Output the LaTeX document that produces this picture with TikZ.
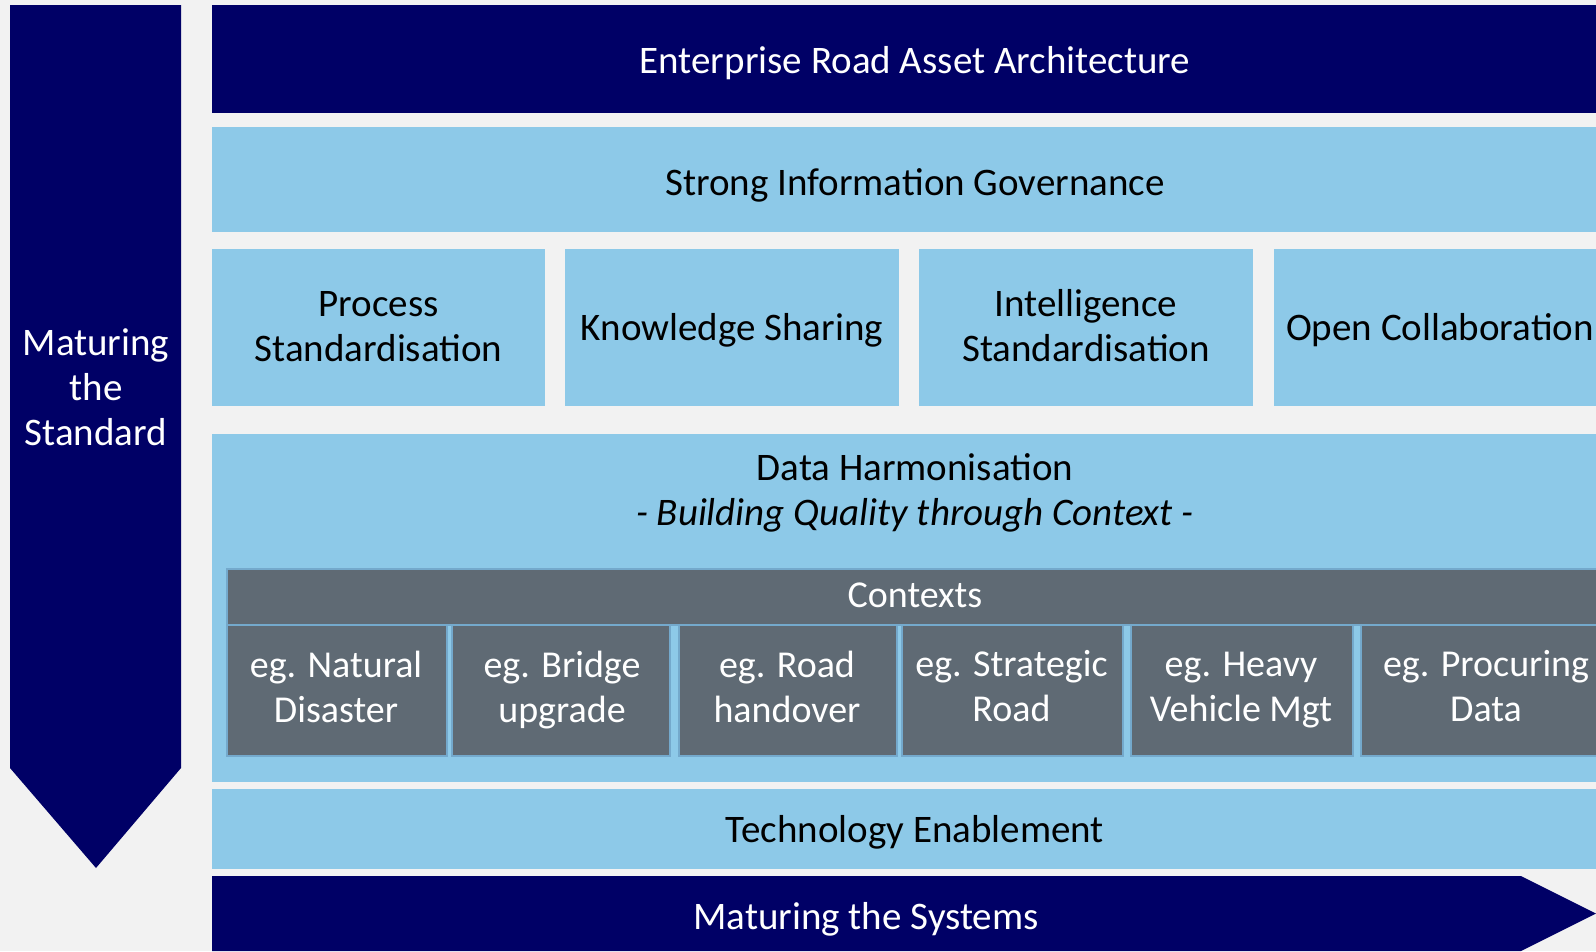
\documentclass[tikz,border=0pt]{standalone}
\usepackage{fontspec}
\setmainfont{Carlito}
\definecolor{navy}{HTML}{000066}
\definecolor{lblue}{HTML}{8DC9E8}
\definecolor{slate}{HTML}{5F6A74}
\definecolor{bgc}{HTML}{F2F2F2}
\definecolor{edge}{HTML}{74A9CC}
\begin{document}
\begin{tikzpicture}[x=1pt,y=-1pt,
  every node/.style={font=\fontsize{39}{45}\selectfont, inner sep=0pt, align=center},
  band/.style={rectangle, anchor=north west, fill=lblue},
  navyband/.style={rectangle, anchor=north west, fill=navy},
  ctx/.style={rectangle, anchor=north west, fill=slate, draw=edge, line width=2pt},
  dlabel/.style={text=black},
  wlabel/.style={text=white},
  clabel/.style={text=white, font=\fontsize{38}{45}\selectfont}]
\useasboundingbox (0,0) rectangle (1596,951);
\fill[bgc] (0,0) rectangle (1596,951);
\clip (0,0) rectangle (1596,951);
% left arrow
\fill[navy] (10,5) -- (181,5) -- (181,768) -- (96,868) -- (10,768) -- cycle;
\node[wlabel] (mstd) at (96,387) {Maturing\\the\\Standard};
% top bands
\node[navyband, minimum width=1406pt, minimum height=108pt] (era) at (212,5) {};
\node[wlabel] (erat) at (915,63) {Enterprise Road Asset Architecture};
\node[band, minimum width=1406pt, minimum height=105pt] (sig) at (212,127) {};
\node[dlabel] (sigt) at (915,185.5) {Strong Information Governance};
% row of four
\node[band, minimum width=333pt, minimum height=157pt] (ps) at (212,249) {};
\node[dlabel] (pst) at (378.5,326.5) {Process\\Standardisation};
\node[band, minimum width=334pt, minimum height=157pt] (ks) at (565,249) {};
\node[dlabel] (kst) at (732,330.5) {Knowledge Sharing};
\node[band, minimum width=334pt, minimum height=157pt] (is) at (919,249) {};
\node[dlabel] (ist) at (1086,325.5) {Intelligence\\Standardisation};
\node[band, minimum width=334pt, minimum height=157pt] (oc) at (1274,249) {};
\node[dlabel] (oct) at (1440,330.5) {Open Collaboration};
% data harmonisation
\node[band, minimum width=1406pt, minimum height=348pt] (dh) at (212,434) {};
\node[dlabel] (dht) at (915,493) {Data Harmonisation\\\textit{- Building Quality through Context -}};
% contexts
\node[ctx, minimum width=1378pt, minimum height=56pt] (ch) at (226,568) {};
\node[clabel] (cht) at (915,595) {Contexts};
\node[ctx, minimum width=220pt, minimum height=131pt] (c1) at (226,624) {};
\node[clabel] (c1t) at (336,686.5) {eg. Natural\\Disaster};
\node[ctx, minimum width=218pt, minimum height=131pt] (c2) at (451,624) {};
\node[clabel] (c2t) at (562,690.5) {eg. Bridge\\upgrade};
\node[ctx, minimum width=218pt, minimum height=131pt] (c3) at (678,624) {};
\node[clabel] (c3t) at (787,686.5) {eg. Road\\handover};
\node[ctx, minimum width=221pt, minimum height=131pt] (c4) at (901,624) {};
\node[clabel] (c4t) at (1011.5,686.5) {eg. Strategic\\Road};
\node[ctx, minimum width=222pt, minimum height=131pt] (c5) at (1130,624) {};
\node[clabel] (c5t) at (1241,690.5) {eg. Heavy\\Vehicle Mgt};
\node[ctx, minimum width=252pt, minimum height=131pt] (c6) at (1360,624) {};
\node[clabel] (c6t) at (1486,686.5) {eg. Procuring\\Data};
% technology
\node[band, minimum width=1406pt, minimum height=80pt] (te) at (212,789) {};
\node[dlabel] (tet) at (915,832) {Technology Enablement};
% bottom arrow
\fill[navy] (212,876) -- (1521,876) -- (1596,913.5) -- (1521,951) -- (212,951) -- cycle;
\node[wlabel] (msys) at (866,919) {Maturing the Systems};
\end{tikzpicture}
\end{document}
